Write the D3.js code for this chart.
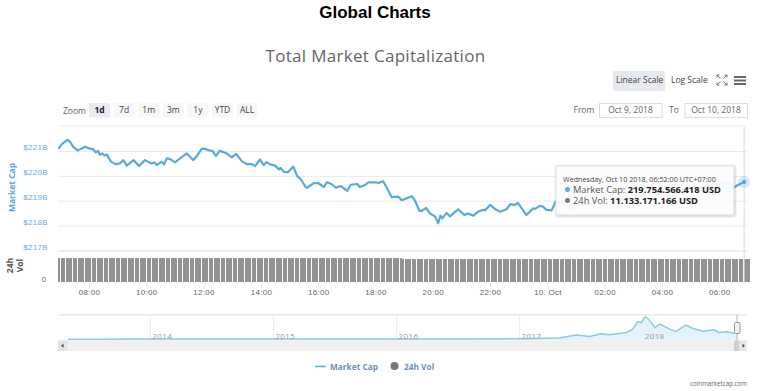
<!DOCTYPE html>
<html lang="en">

<head>
    <meta charset="UTF-8">
    <title>Global Charts</title>
    <script src="https://d3js.org/d3.v7.min.js"></script>
    <style>
        body {
            margin: 0;
            padding: 0;
            background: #fff;
            overflow: hidden;
        }

        svg {
            display: block;
            font-family: "Open Sans", Arial, sans-serif;
        }

        .axis path,
        .axis line {
            display: none;
        }

        .xaxis line {
            display: block;
            stroke: #e6e6e6;
        }
    </style>
</head>

<body>
    <svg id="chart" width="772" height="391"></svg>

    <script>
        // minutes after midnight, Oct 9 2018 (UTC+07:00)
        const capMinutes = [
            416, 423, 430, 435, 440, 447, 456, 465, 472, 482, 489, 494, 499, 503, 508, 512, 517, 526, 536, 545,
            552, 559, 573, 585, 597, 611, 617, 622, 632, 637, 643, 650, 660, 670, 685, 698, 705, 716, 723, 733,
            738, 746, 754, 768, 779, 788, 800, 810, 821, 828, 838, 846, 852, 859, 869, 878, 881, 888, 897, 908,
            916, 923, 934, 937, 950, 960, 972, 978, 988, 997, 1007, 1021, 1028, 1042, 1047, 1058, 1065, 1079, 1086, 1096,
            1105, 1114, 1128, 1135, 1156, 1163, 1172, 1177, 1186, 1194, 1205, 1211, 1216, 1220, 1229, 1236, 1253, 1266, 1274, 1285,
            1295, 1306, 1309, 1320, 1330, 1341, 1355, 1362, 1371, 1378, 1396, 1410, 1414, 1424, 1431, 1438, 1449, 1457, 1470, 1491,
            1508, 1529, 1550, 1575, 1602, 1634, 1665, 1697, 1728, 1759, 1785, 1801, 1818, 1829, 1839, 1852
        ];
        // market cap in billions of USD
        const capValues = [
            221.10, 221.29, 221.39, 221.46, 221.39, 221.18, 221.04, 221.12, 221.19, 221.11, 221.08, 220.96, 221.02, 220.86, 220.92, 220.83, 220.88, 220.59, 220.48, 220.53,
            220.65, 220.43, 220.65, 220.41, 220.65, 220.51, 220.56, 220.45, 220.59, 220.48, 220.72, 220.69, 220.56, 220.71, 220.92, 220.65, 220.79, 221.10, 221.11, 221.03,
            221.03, 220.82, 221.03, 220.92, 220.76, 220.90, 220.61, 220.49, 220.49, 220.41, 220.68, 220.45, 220.57, 220.48, 220.44, 220.28, 220.33, 220.18, 220.17, 220.39,
            220.01, 219.90, 219.56, 219.54, 219.72, 219.73, 219.57, 219.76, 219.69, 219.54, 219.61, 219.42, 219.66, 219.69, 219.57, 219.65, 219.76, 219.76, 219.73, 219.80,
            219.49, 219.16, 219.18, 219.04, 219.20, 219.01, 218.61, 218.61, 218.73, 218.51, 218.38, 218.11, 218.42, 218.31, 218.53, 218.39, 218.67, 218.45, 218.50, 218.42,
            218.58, 218.66, 218.63, 218.85, 218.69, 218.58, 218.69, 218.88, 218.85, 218.93, 218.45, 218.71, 218.69, 218.81, 218.78, 218.65, 218.63, 218.98, 218.95, 218.73,
            218.85, 218.89, 219.05, 219.13, 219.05, 219.25, 219.33, 219.21, 219.45, 219.57, 219.65, 219.69, 219.73, 219.53, 219.65, 219.77
        ];

        // 24h volume in billions of USD, one bar every 5 minutes
        const volStartMinute = 416;
        const volValues = [
            11.62, 11.63, 11.62, 11.64, 11.63, 11.62, 11.63, 11.64, 11.62, 11.61, 11.62, 11.63, 11.61, 11.60, 11.62, 11.61, 11.60, 11.61, 11.62, 11.60, 11.61, 11.60, 11.59, 11.60,
            11.60, 11.61, 11.59, 11.58, 11.60, 11.59, 11.58, 11.59, 11.60, 11.58, 11.59, 11.58, 11.57, 11.58, 11.59, 11.57, 11.58, 11.57, 11.58, 11.59, 11.57, 11.58, 11.56, 11.57,
            11.58, 11.59, 11.57, 11.58, 11.59, 11.60, 11.58, 11.59, 11.60, 11.61, 11.59, 11.60, 11.61, 11.59, 11.60, 11.61, 11.62, 11.60, 11.61, 11.60, 11.62, 11.61, 11.60, 11.61,
            11.62, 11.61, 11.60, 11.62, 11.61, 11.60, 11.59, 11.61, 11.60, 11.59, 11.60, 11.61, 11.59, 11.60, 11.61, 11.60, 11.59, 11.60, 11.61, 11.62, 11.60, 11.61, 11.62, 11.60,
            11.61, 11.62, 11.63, 11.61, 11.62, 11.63, 11.62, 11.61, 11.63, 11.62, 11.61, 11.62, 11.63, 11.61, 11.62, 11.63, 11.62, 11.61, 11.62, 11.63, 11.61, 11.62, 11.61, 11.60,
            11.61, 11.62, 11.60, 11.59, 11.58, 11.55, 11.53, 11.54, 11.52, 11.50, 11.51, 11.52, 11.50, 11.49, 11.50, 11.51, 11.49, 11.48, 11.50, 11.49, 11.47, 11.48, 11.46, 11.44,
            11.35, 11.30, 11.28, 11.25, 11.23, 11.21, 11.20, 11.19, 11.18, 11.19, 11.18, 11.17, 11.18, 11.17, 11.16, 11.17, 11.18, 11.17, 11.16, 11.17, 11.16, 11.15, 11.16, 11.17,
            11.16, 11.15, 11.16, 11.17, 11.16, 11.15, 11.16, 11.15, 11.14, 11.15, 11.16, 11.15, 11.14, 11.15, 11.16, 11.15, 11.14, 11.15, 11.14, 11.13, 11.14, 11.15, 11.14, 11.13,
            11.14, 11.15, 11.14, 11.13, 11.14, 11.13, 11.12, 11.13, 11.14, 11.13, 11.12, 11.13, 11.14, 11.13, 11.12, 11.13, 11.12, 11.13, 11.14, 11.13, 11.12, 11.13, 11.14, 11.13,
            11.12, 11.13, 11.14, 11.13, 11.12, 11.13, 11.14, 11.15, 11.14, 11.13, 11.14, 11.15, 11.14, 11.13, 11.14, 11.15, 11.16, 11.15, 11.14, 11.15, 11.14, 11.13, 11.14, 11.15,
            11.14, 11.15, 11.16, 11.15, 11.14, 11.15, 11.16, 11.15, 11.14, 11.15, 11.14, 11.13, 11.14, 11.15, 11.14, 11.13, 11.14, 11.13, 11.12, 11.13, 11.14, 11.13, 11.12, 11.13,
            11.14, 11.13, 11.12, 11.13, 11.14, 11.13, 11.12, 11.13, 11.14, 11.13, 11.14, 11.13, 11.12, 11.13, 11.12, 11.13, 11.14, 11.13, 11.12, 11.13, 11.14, 11.13, 11.14, 11.13,
            11.13, 11.14
        ];

        // overview series: decimal year and total cap in billions of USD
        const navYears = [
            2013.33, 2013.6, 2013.9, 2014.0, 2014.5, 2015.0, 2015.5, 2016.0, 2016.5, 2017.0, 2017.32, 2017.39, 2017.46, 2017.57, 2017.66, 2017.73, 2017.87, 2017.92, 2017.96, 2017.99,
            2018.02, 2018.04, 2018.07, 2018.10, 2018.14, 2018.18, 2018.22, 2018.27, 2018.31, 2018.35, 2018.41, 2018.49, 2018.58, 2018.62, 2018.68, 2018.73, 2018.77
        ];
        const navCaps = [
            2, 2, 3, 10, 8, 5, 4, 6, 10, 18, 42, 100, 148, 100, 194, 159, 240, 360, 628, 593,
            805, 748, 593, 417, 537, 452, 360, 275, 395, 501, 381, 289, 335, 240, 265, 219, 240
        ];

        const capTicks = [221, 220, 219, 218, 217];
        const hourTicks = [480, 600, 720, 840, 960, 1080, 1200, 1320, 1440, 1560, 1680, 1800];
        const yearTicks = [2014, 2015, 2016, 2017, 2018];
        const zoomButtons = ["1d", "7d", "1m", "3m", "1y", "YTD", "ALL"];

        const blue = "#57abdc";
        const svg = d3.select("#chart");

        const x = d3.scaleLinear().domain([480, 600]).range([89, 146.3]);
        const yCap = d3.scaleLinear().domain([217, 221]).range([251, 151.4]);
        const yVol = d3.scaleLinear().domain([0, 14]).range([283, 253]);
        const xNav = d3.scaleLinear().domain([2014, 2018]).range([150.3, 642.7]);
        const yNav = d3.scaleLinear().domain([0, 830]).range([339.2, 316]);

        function label(text, px, py, opts) {
            opts = opts || {};
            return svg.append("text")
                .attr("x", px)
                .attr("y", py)
                .attr("text-anchor", opts.anchor || "start")
                .attr("font-size", opts.size || 9)
                .attr("font-weight", opts.weight || "normal")
                .attr("fill", opts.fill || "#666")
                .attr("letter-spacing", opts.spacing || 0)
                .attr("font-family", opts.family || null)
                .text(text);
        }

        // titles
        label("Global Charts", 375, 18, { anchor: "middle", size: 17, weight: "bold", fill: "#000", family: "'Liberation Sans', Arial" });
        label("Total Market Capitalization", 375.5, 62, { anchor: "middle", size: 17, fill: "#666", spacing: 0.3 });

        // scale buttons
        svg.append("rect").attr("x", 613).attr("y", 71).attr("width", 52).attr("height", 20).attr("rx", 1).attr("fill", "#e6e9ee");
        label("Linear Scale", 616, 82.5, { size: 8.5, fill: "#444" });
        label("Log Scale", 671, 82.5, { size: 8.5, fill: "#444" });

        // fullscreen icon
        [[717, 75, 1, 1], [727, 75, -1, 1], [717, 85, 1, -1], [727, 85, -1, -1]].forEach(c => {
            svg.append("path")
                .attr("d", `M${c[0]},${c[1]}l${3.5 * c[2]},${3.5 * c[3]}M${c[0]},${c[1]}h${2.5 * c[2]}M${c[0]},${c[1]}v${2.5 * c[3]}`)
                .attr("stroke", "#777").attr("fill", "none");
        });
        [77, 80.5, 84].forEach(py => {
            svg.append("rect").attr("x", 734).attr("y", py - 1).attr("width", 12).attr("height", 2).attr("fill", "#666");
        });

        // range selector
        label("Zoom", 63, 113.5, { size: 8.5 });
        zoomButtons.forEach((b, i) => {
            const bx = 89 + i * 24.6;
            svg.append("rect").attr("x", bx).attr("y", 103).attr("width", 21).attr("height", 14.5).attr("rx", 1)
                .attr("fill", i === 0 ? "#e6ebf5" : "#f7f7f7");
            label(b, bx + 10.5, 113, { anchor: "middle", size: 8.5, weight: i === 0 ? "bold" : "normal", fill: i === 0 ? "#222" : "#444" });
        });

        label("From", 573.5, 112.5, { size: 8.5 });
        label("To", 669, 112.5, { size: 8.5 });
        [[599, "Oct 9, 2018"], [684.5, "Oct 10, 2018"]].forEach(d => {
            svg.append("rect").attr("x", d[0] + 0.5).attr("y", 103.5).attr("width", 62.5).attr("height", 14)
                .attr("fill", "#fff").attr("stroke", "#dcdcdc");
            label(d[1], d[0] + 31.5, 112.5, { anchor: "middle", size: 8.5 });
        });

        // plot frame and grid
        svg.append("line").attr("x1", 58).attr("x2", 747).attr("y1", 126).attr("y2", 126).attr("stroke", "#f2f2f2").attr("stroke-width", 1.5);
        svg.append("g").selectAll("line").data(capTicks).enter().append("line")
            .attr("x1", 58).attr("x2", 747)
            .attr("y1", d => yCap(d)).attr("y2", d => yCap(d))
            .attr("stroke", "#e9e9e9").attr("stroke-width", d => d === 217 ? 1.5 : 1);

        svg.append("g").attr("class", "axis")
            .attr("transform", "translate(48,0)")
            .call(d3.axisLeft(yCap).tickValues(capTicks).tickSize(0).tickPadding(0).tickFormat(d => "$" + d + "B"))
            .selectAll("text")
            .attr("dy", "-1.5px")
            .attr("font-size", 8)
            .attr("letter-spacing", 0.3)
            .attr("fill", "#6fa9d6");

        label("Market Cap", 0, 0, { anchor: "middle", size: 8.5, weight: "bold", fill: "#5aa9de" })
            .attr("transform", "translate(15,187.5) rotate(-90)");
        label("24h", 0, 0, { anchor: "middle", size: 8.5, weight: "bold", fill: "#555" })
            .attr("transform", "translate(13,265.5) rotate(-90)");
        label("Vol", 0, 0, { anchor: "middle", size: 8.5, weight: "bold", fill: "#555" })
            .attr("transform", "translate(23,265.5) rotate(-90)");
        label("0", 46, 281.5, { anchor: "end", size: 8 });

        // volume bars
        svg.append("g").attr("shape-rendering", "crispEdges").selectAll("rect")
            .data(volValues).enter().append("rect")
            .attr("x", (d, i) => Math.round(x(volStartMinute + i * 5)))
            .attr("y", d => Math.round(yVol(d)))
            .attr("width", 2)
            .attr("height", d => yVol(0) - 1 - Math.round(yVol(d)))
            .attr("fill", "#929292");

        // time axis
        const xAxis = d3.axisBottom(x)
            .tickValues(hourTicks)
            .tickSize(5)
            .tickPadding(1)
            .tickFormat(d => d === 1440 ? "10. Oct" : d3.format("02")((d % 1440) / 60) + ":00");
        svg.append("g").attr("class", "axis xaxis")
            .attr("transform", "translate(0,283.5)")
            .call(xAxis)
            .selectAll("text")
            .attr("font-size", 8)
            .attr("letter-spacing", 0.3)
            .attr("fill", "#666");

        // crosshair
        svg.append("line").attr("x1", x(1852)).attr("x2", x(1852)).attr("y1", 126).attr("y2", 284).attr("stroke", "#dcdcdc");

        // market cap line
        const capLine = d3.line().x(d => x(d[0])).y(d => yCap(d[1]));
        svg.append("path")
            .datum(d3.zip(capMinutes, capValues))
            .attr("d", capLine)
            .attr("fill", "none")
            .attr("stroke", blue)
            .attr("stroke-width", 2.2)
            .attr("stroke-linejoin", "round");

        const lastX = x(capMinutes[capMinutes.length - 1]);
        const lastY = yCap(capValues[capValues.length - 1]);
        svg.append("circle").attr("cx", lastX).attr("cy", lastY).attr("r", 6).attr("fill", blue).attr("opacity", 0.25);
        svg.append("circle").attr("cx", lastX).attr("cy", lastY).attr("r", 2.2).attr("fill", blue);

        // tooltip
        const shadow = svg.append("defs").append("filter").attr("id", "tipShadow")
            .attr("x", "-5%").attr("y", "-10%").attr("width", "110%").attr("height", "125%");
        shadow.append("feDropShadow").attr("dx", 0.7).attr("dy", 0.7).attr("stdDeviation", 1).attr("flood-opacity", 0.3);
        svg.append("rect").attr("x", 556).attr("y", 166).attr("width", 178).attr("height", 49)
            .attr("fill", "#fff").attr("fill-opacity", 0.9).attr("stroke", "#ddd").attr("filter", "url(#tipShadow)");
        label("Wednesday, Oct 10 2018, 06:52:00 UTC+07:00", 563, 182, { size: 7.2, fill: "#444" });
        svg.append("circle").attr("cx", 567.5).attr("cy", 189.5).attr("r", 2.5).attr("fill", blue);
        label("Market Cap: ", 573, 193, { size: 9.3, fill: "#555" })
            .append("tspan").attr("font-weight", "bold").attr("fill", "#222").text("219.754.566.418 USD");
        svg.append("circle").attr("cx", 567.5).attr("cy", 200.5).attr("r", 2.5).attr("fill", "#777");
        label("24h Vol: ", 573, 204, { size: 9.3, fill: "#555" })
            .append("tspan").attr("font-weight", "bold").attr("fill", "#222").text("11.133.171.166 USD");

        // navigator
        svg.append("line").attr("x1", 58).attr("x2", 747).attr("y1", 314.7).attr("y2", 314.7).attr("stroke", "#eaeaea").attr("stroke-width", 1.5);
        svg.append("g").selectAll("line").data(yearTicks).enter().append("line")
            .attr("x1", d => xNav(d)).attr("x2", d => xNav(d))
            .attr("y1", 315).attr("y2", 340)
            .attr("stroke", "#ececec");

        const navData = d3.zip(navYears, navCaps);
        svg.append("path")
            .datum(navData)
            .attr("d", d3.area().x(d => xNav(d[0])).y0(340.5).y1(d => yNav(d[1])))
            .attr("fill", "#e3f2fb");
        svg.append("path")
            .datum(navData)
            .attr("d", d3.line().x(d => xNav(d[0])).y(d => yNav(d[1])))
            .attr("fill", "none")
            .attr("stroke", "#8fc8ea")
            .attr("stroke-width", 1.5);

        yearTicks.forEach(yr => label(yr, xNav(yr) + 2, 339, { size: 8, fill: "#999", spacing: 0.4 }));

        // scrollbar
        svg.append("rect").attr("x", 58).attr("y", 340.5).attr("width", 689).attr("height", 10.5).attr("fill", "#f0f0f0");
        svg.append("rect").attr("x", 58).attr("y", 340.5).attr("width", 9.5).attr("height", 10.5).attr("fill", "#e4e4e4");
        svg.append("path").attr("d", "M61,345.7l2.5,-2v4z").attr("fill", "#444");
        svg.append("rect").attr("x", 734).attr("y", 340.5).attr("width", 5.5).attr("height", 10.5).attr("fill", "#cfcfcf");
        svg.append("rect").attr("x", 739.5).attr("y", 340.5).attr("width", 7.5).attr("height", 10.5).attr("fill", "#e8e8e8");
        svg.append("path").attr("d", "M745,345.7l-2.5,-2v4z").attr("fill", "#444");

        // navigator handle
        svg.append("line").attr("x1", 737).attr("x2", 737).attr("y1", 315).attr("y2", 340).attr("stroke", "#bbb");
        svg.append("rect").attr("x", 734.5).attr("y", 322.5).attr("width", 5.5).attr("height", 11).attr("rx", 1)
            .attr("fill", "#f2f2f2").attr("stroke", "#999");

        // legend
        svg.append("line").attr("x1", 315).attr("x2", 326).attr("y1", 366.5).attr("y2", 366.5).attr("stroke", blue).attr("stroke-width", 1.5);
        label("Market Cap", 330, 369.5, { size: 8.3, weight: "bold", fill: "#6f8fba" });
        svg.append("circle").attr("cx", 394.5).attr("cy", 366).attr("r", 4).attr("fill", "#777");
        label("24h Vol", 404, 369.5, { size: 8.3, weight: "bold", fill: "#6f8fba" });

        label("coinmarketcap.com", 747, 385.5, { anchor: "end", size: 6.2, fill: "#666" });
    </script>
</body>

</html>
